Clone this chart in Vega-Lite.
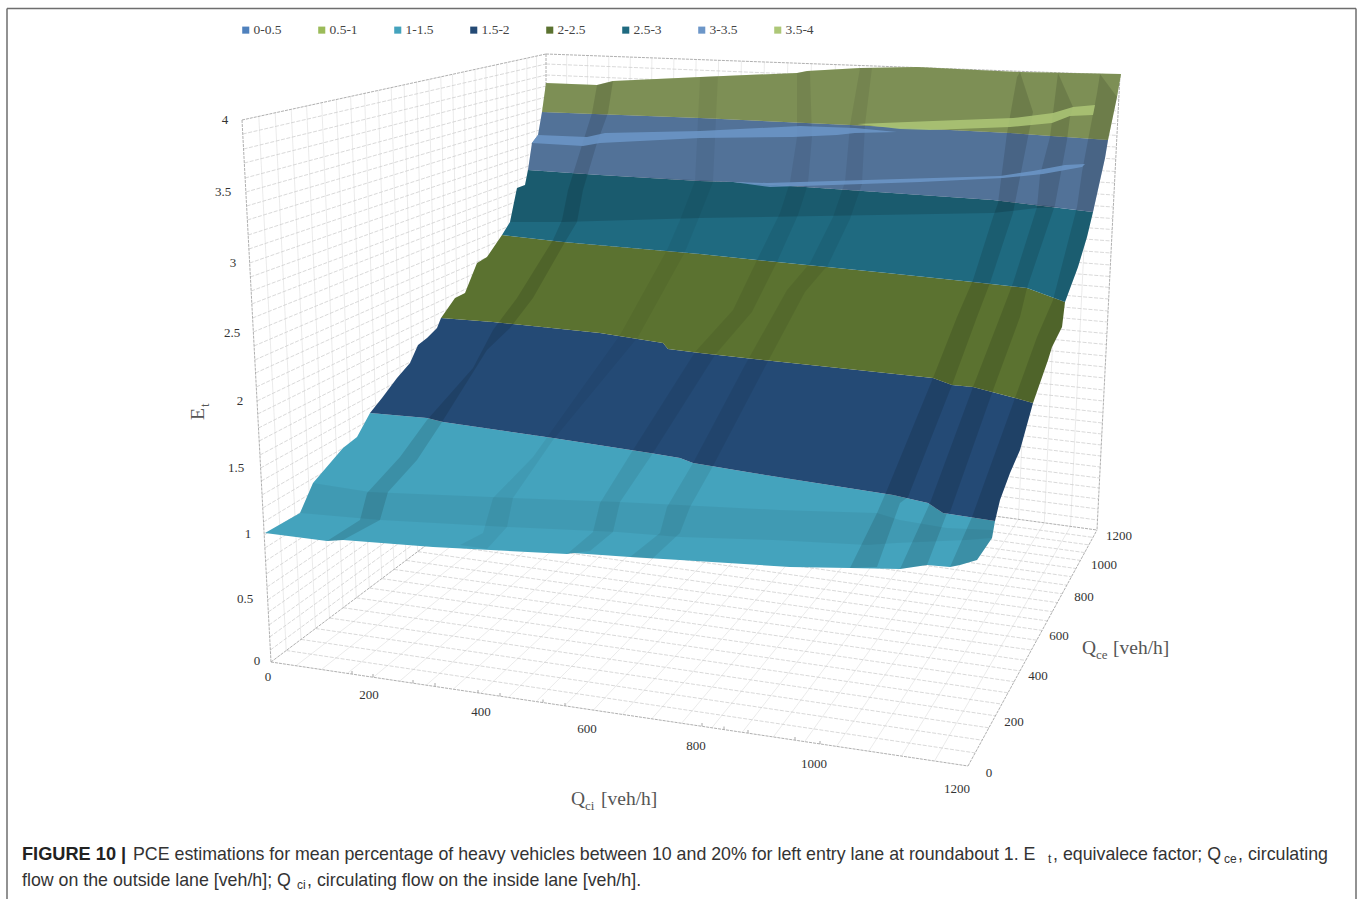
{"$schema":"https://vega.github.io/schema/vega-lite/v6.json","width":1357,"height":899,"padding":0,"autosize":{"type":"none"},"background":"white","config":{"view":{"stroke":null}},
"datasets":{
"frame":[{"x":7,"y":8.5,"x2":1356,"y2":8.5},{"x":7,"y":8.5,"x2":7,"y2":899},{"x":1356,"y":8.5,"x2":1356,"y2":899}],
"edge":[{"x":242,"y":120,"x2":546,"y2":54},{"x":242,"y":120,"x2":271,"y2":662},{"x":546,"y":54,"x2":546,"y2":455},{"x":546,"y":54,"x2":1120,"y2":75},{"x":1120,"y":75,"x2":1097,"y2":530},{"x":271,"y":662,"x2":968,"y2":766},{"x":968,"y":766,"x2":1097,"y2":530},{"x":271,"y":662,"x2":546,"y2":455},{"x":546,"y":455,"x2":1097,"y2":530}],
"floorTicks":[{"x":352,"y":674,"x2":352,"y2":671},{"x":373,"y":677,"x2":373,"y2":674},{"x":413,"y":683,"x2":413,"y2":680},{"x":435,"y":686,"x2":435,"y2":683},{"x":478,"y":693,"x2":478,"y2":690},{"x":500,"y":696,"x2":500,"y2":693},{"x":543,"y":702.5,"x2":543,"y2":699.5},{"x":565,"y":706,"x2":565,"y2":703},{"x":702,"y":726,"x2":702,"y2":723},{"x":724,"y":729.5,"x2":724,"y2":726.5},{"x":748,"y":733,"x2":748,"y2":730},{"x":795,"y":740,"x2":795,"y2":737},{"x":820,"y":744,"x2":820,"y2":741}],
"dashed":[
{"x":270.4,"y":650,"x2":546,"y2":446},{"x":269.7,"y":637,"x2":546,"y2":436.5},{"x":269,"y":625,"x2":546,"y2":428},{"x":268.3,"y":612,"x2":546,"y2":418},{"x":267.7,"y":600,"x2":546,"y2":409},{"x":267,"y":587,"x2":546,"y2":399.5},{"x":266.3,"y":574,"x2":546,"y2":390},{"x":265.6,"y":561,"x2":546,"y2":380},{"x":264.9,"y":548,"x2":546,"y2":371},{"x":264.2,"y":535,"x2":546,"y2":361},{"x":263.5,"y":522,"x2":546,"y2":351},{"x":262.8,"y":508,"x2":546,"y2":341},{"x":262,"y":495,"x2":546,"y2":331},{"x":261.3,"y":481,"x2":546,"y2":321},{"x":260.6,"y":468,"x2":546,"y2":311},{"x":260,"y":455,"x2":546,"y2":302},{"x":259.2,"y":441,"x2":546,"y2":291},{"x":258.5,"y":428,"x2":546,"y2":282},{"x":257.7,"y":414,"x2":546,"y2":271},{"x":257,"y":401,"x2":546,"y2":262},{"x":256.3,"y":387,"x2":546,"y2":251.5},{"x":255.5,"y":373,"x2":546,"y2":241},{"x":254.8,"y":360,"x2":546,"y2":231.5},{"x":254,"y":346,"x2":546,"y2":221},{"x":253.3,"y":332,"x2":546,"y2":211},{"x":252.6,"y":318,"x2":546,"y2":200},{"x":251.8,"y":304,"x2":546,"y2":190},{"x":251.2,"y":291,"x2":546,"y2":180.5},{"x":250.4,"y":277,"x2":546,"y2":170},{"x":249.7,"y":263,"x2":546,"y2":160},{"x":248.9,"y":249,"x2":546,"y2":149},{"x":248.2,"y":235,"x2":546,"y2":139},{"x":247.4,"y":220,"x2":546,"y2":128},{"x":246.6,"y":206,"x2":546,"y2":118},{"x":245.9,"y":192,"x2":546,"y2":107},{"x":245.1,"y":178,"x2":546,"y2":97},{"x":244.3,"y":163,"x2":546,"y2":86},{"x":243.6,"y":149,"x2":546,"y2":75},{"x":242.8,"y":134,"x2":546,"y2":64},
{"x":546,"y":446,"x2":1097.5,"y2":520},{"x":546,"y":436.5,"x2":1098,"y2":509},{"x":546,"y":428,"x2":1098.6,"y2":499},{"x":546,"y":418,"x2":1099.1,"y2":488},{"x":546,"y":409,"x2":1099.6,"y2":478},{"x":546,"y":399.5,"x2":1100.2,"y2":467},{"x":546,"y":390,"x2":1100.7,"y2":456},{"x":546,"y":380,"x2":1101.3,"y2":445},{"x":546,"y":371,"x2":1101.8,"y2":434},{"x":546,"y":361,"x2":1102.4,"y2":423},{"x":546,"y":351,"x2":1102.9,"y2":412.5},{"x":546,"y":341,"x2":1103.5,"y2":401},{"x":546,"y":331,"x2":1104.1,"y2":390},{"x":546,"y":321,"x2":1104.7,"y2":378},{"x":546,"y":311,"x2":1105.2,"y2":367},{"x":546,"y":302,"x2":1105.8,"y2":356},{"x":546,"y":291,"x2":1106.4,"y2":344.5},{"x":546,"y":282,"x2":1106.9,"y2":333.6},{"x":546,"y":271,"x2":1107.5,"y2":322},{"x":546,"y":262,"x2":1108.1,"y2":311},{"x":546,"y":251.5,"x2":1108.7,"y2":299},{"x":546,"y":241,"x2":1109.3,"y2":287.4},{"x":546,"y":231.5,"x2":1109.8,"y2":276.5},{"x":546,"y":221,"x2":1110.4,"y2":265},{"x":546,"y":211,"x2":1111,"y2":253},{"x":546,"y":200,"x2":1111.6,"y2":241},{"x":546,"y":190,"x2":1112.2,"y2":229.5},{"x":546,"y":180.5,"x2":1112.7,"y2":218.5},{"x":546,"y":170,"x2":1113.3,"y2":207},{"x":546,"y":160,"x2":1113.9,"y2":195},{"x":546,"y":149,"x2":1114.5,"y2":183},{"x":546,"y":139,"x2":1115.1,"y2":171.5},{"x":546,"y":128,"x2":1115.7,"y2":159},{"x":546,"y":118,"x2":1116.3,"y2":147},{"x":546,"y":107,"x2":1116.9,"y2":135.4},{"x":546,"y":97,"x2":1117.5,"y2":123.7},{"x":546,"y":86,"x2":1118.2,"y2":111},{"x":546,"y":75,"x2":1118.8,"y2":99},{"x":546,"y":64,"x2":1119.4,"y2":87},
{"x":286.2,"y":650.5,"x2":975.1,"y2":752.9},{"x":301,"y":639.4,"x2":982.1,"y2":740.2},{"x":315.5,"y":628.5,"x2":988.9,"y2":727.8},{"x":329.5,"y":618,"x2":995.4,"y2":715.8},{"x":343,"y":607.7,"x2":1001.8,"y2":704.1},{"x":356.3,"y":597.8,"x2":1008,"y2":692.8},{"x":369.3,"y":588,"x2":1014.1,"y2":681.7},{"x":381.8,"y":578.6,"x2":1020,"y2":670.9},{"x":394,"y":569.4,"x2":1025.7,"y2":660.4},{"x":406,"y":560.4,"x2":1031.3,"y2":650.1},{"x":417.6,"y":551.6,"x2":1036.8,"y2":640.2},{"x":429,"y":543,"x2":1042.1,"y2":630.4},{"x":440,"y":534.8,"x2":1047.3,"y2":620.9},{"x":450.9,"y":526.6,"x2":1052.4,"y2":611.7},{"x":461.4,"y":518.7,"x2":1057.3,"y2":602.6},{"x":471.7,"y":511,"x2":1062.1,"y2":593.8},{"x":481.7,"y":503.4,"x2":1066.9,"y2":585.2},{"x":491.6,"y":496,"x2":1071.5,"y2":576.7},{"x":501.1,"y":488.8,"x2":1076,"y2":568.5},{"x":510.5,"y":481.7,"x2":1080.4,"y2":560.4},{"x":519.7,"y":474.8,"x2":1084.7,"y2":552.6},{"x":528.6,"y":468,"x2":1088.9,"y2":544.9},{"x":537.4,"y":461.5,"x2":1093,"y2":537.4}],
"light":[
{"x":258.8,"y":116.3,"x2":286.2,"y2":650.5},{"x":275.2,"y":112.8,"x2":301,"y2":639.4},{"x":291.2,"y":109.3,"x2":315.5,"y2":628.5},{"x":306.6,"y":106,"x2":329.5,"y2":618},{"x":321.7,"y":102.7,"x2":343,"y2":607.7},{"x":336.3,"y":99.5,"x2":356.3,"y2":597.8},{"x":350.6,"y":96.4,"x2":369.3,"y2":588},{"x":364.5,"y":93.4,"x2":381.8,"y2":578.6},{"x":378,"y":90.5,"x2":394,"y2":569.4},{"x":391.2,"y":87.6,"x2":406,"y2":560.4},{"x":404.1,"y":84.8,"x2":417.6,"y2":551.6},{"x":416.6,"y":82.1,"x2":429,"y2":543},{"x":428.9,"y":79.4,"x2":440,"y2":534.8},{"x":440.8,"y":76.8,"x2":450.9,"y2":526.6},{"x":452.5,"y":74.3,"x2":461.4,"y2":518.7},{"x":463.8,"y":71.8,"x2":471.7,"y2":511},{"x":475,"y":69.4,"x2":481.7,"y2":503.4},{"x":485.8,"y":67.1,"x2":491.6,"y2":496},{"x":496.4,"y":64.8,"x2":501.1,"y2":488.8},{"x":506.8,"y":62.5,"x2":510.5,"y2":481.7},{"x":516.9,"y":60.3,"x2":519.7,"y2":474.8},{"x":526.8,"y":58.2,"x2":528.6,"y2":468},{"x":536.5,"y":56,"x2":537.4,"y2":461.5},
{"x":296.1,"y":665.7,"x2":565.8,"y2":457.7},{"x":321.5,"y":669.5,"x2":586,"y2":460.4},{"x":347.3,"y":673.4,"x2":606.3,"y2":463.2},{"x":373.3,"y":677.3,"x2":626.9,"y2":466},{"x":399.6,"y":681.2,"x2":647.7,"y2":468.8},{"x":426.3,"y":685.2,"x2":668.8,"y2":471.7},{"x":453.3,"y":689.2,"x2":690.1,"y2":474.6},{"x":480.6,"y":693.3,"x2":711.7,"y2":477.6},{"x":508.3,"y":697.4,"x2":733.6,"y2":480.5},{"x":536.2,"y":701.6,"x2":755.7,"y2":483.5},{"x":564.6,"y":705.8,"x2":778.1,"y2":486.6},{"x":593.3,"y":710.1,"x2":800.8,"y2":489.7},{"x":622.4,"y":714.4,"x2":823.8,"y2":492.8},{"x":651.8,"y":718.8,"x2":847,"y2":496},{"x":681.5,"y":723.3,"x2":870.5,"y2":499.2},{"x":711.8,"y":727.8,"x2":894.5,"y2":502.4},{"x":742.3,"y":732.3,"x2":918.6,"y2":505.7},{"x":773.3,"y":737,"x2":943.1,"y2":509.1},{"x":804.7,"y":741.6,"x2":967.9,"y2":512.4},{"x":836.5,"y":746.4,"x2":993,"y2":515.8},{"x":868.7,"y":751.2,"x2":1018.5,"y2":519.3},{"x":901.4,"y":756.1,"x2":1044.3,"y2":522.8},{"x":934.5,"y":761,"x2":1070.5,"y2":526.4},
{"x":566.7,"y":54.8,"x2":565.8,"y2":457.7},{"x":587.6,"y":55.5,"x2":586,"y2":460.4},{"x":608.8,"y":56.3,"x2":606.3,"y2":463.2},{"x":630.3,"y":57.1,"x2":626.9,"y2":466},{"x":651.9,"y":57.9,"x2":647.7,"y2":468.8},{"x":673.9,"y":58.7,"x2":668.8,"y2":471.7},{"x":696.1,"y":59.5,"x2":690.1,"y2":474.6},{"x":718.6,"y":60.3,"x2":711.7,"y2":477.6},{"x":741.4,"y":61.1,"x2":733.6,"y2":480.5},{"x":764.4,"y":62,"x2":755.7,"y2":483.5},{"x":787.8,"y":62.8,"x2":778.1,"y2":486.6},{"x":811.4,"y":63.7,"x2":800.8,"y2":489.7},{"x":835.4,"y":64.6,"x2":823.8,"y2":492.8},{"x":859.6,"y":65.5,"x2":847,"y2":496},{"x":884.1,"y":66.4,"x2":870.5,"y2":499.2},{"x":909,"y":67.3,"x2":894.5,"y2":502.4},{"x":934.1,"y":68.2,"x2":918.6,"y2":505.7},{"x":959.7,"y":69.1,"x2":943.1,"y2":509.1},{"x":985.5,"y":70.1,"x2":967.9,"y2":512.4},{"x":1011.7,"y":71,"x2":993,"y2":515.8},{"x":1038.2,"y":72,"x2":1018.5,"y2":519.3},{"x":1065.1,"y":73,"x2":1044.3,"y2":522.8},{"x":1092.4,"y":74,"x2":1070.5,"y2":526.4}],
"surface":[
{"id":"a","b":"1-1.5","i":1,"x":265,"y":533},{"id":"a","b":"1-1.5","i":2,"x":300,"y":513},{"id":"a","b":"1-1.5","i":3,"x":313,"y":483},{"id":"a","b":"1-1.5","i":4,"x":343,"y":448},{"id":"a","b":"1-1.5","i":5,"x":357,"y":437},{"id":"a","b":"1-1.5","i":6,"x":370,"y":413},{"id":"a","b":"1-1.5","i":7,"x":427,"y":418},{"id":"a","b":"1-1.5","i":8,"x":443,"y":422},{"id":"a","b":"1-1.5","i":9,"x":553,"y":438},{"id":"a","b":"1-1.5","i":10,"x":650,"y":453},{"id":"a","b":"1-1.5","i":11,"x":680,"y":458},{"id":"a","b":"1-1.5","i":12,"x":693,"y":463},{"id":"a","b":"1-1.5","i":13,"x":753,"y":473},{"id":"a","b":"1-1.5","i":14,"x":893,"y":495},{"id":"a","b":"1-1.5","i":15,"x":928,"y":503},{"id":"a","b":"1-1.5","i":16,"x":943,"y":513},{"id":"a","b":"1-1.5","i":17,"x":995,"y":521},{"id":"a","b":"1-1.5","i":18,"x":992,"y":538},{"id":"a","b":"1-1.5","i":19,"x":977,"y":560},{"id":"a","b":"1-1.5","i":20,"x":960,"y":565},{"id":"a","b":"1-1.5","i":21,"x":950,"y":567},{"id":"a","b":"1-1.5","i":22,"x":927,"y":565},{"id":"a","b":"1-1.5","i":23,"x":900,"y":569},{"id":"a","b":"1-1.5","i":24,"x":850,"y":568},{"id":"a","b":"1-1.5","i":25,"x":790,"y":567},{"id":"a","b":"1-1.5","i":26,"x":680,"y":560},{"id":"a","b":"1-1.5","i":27,"x":630,"y":557},{"id":"a","b":"1-1.5","i":28,"x":573,"y":553},{"id":"a","b":"1-1.5","i":29,"x":567,"y":554},{"id":"a","b":"1-1.5","i":30,"x":433,"y":547},{"id":"a","b":"1-1.5","i":31,"x":343,"y":540},{"id":"a","b":"1-1.5","i":32,"x":327,"y":541},
{"id":"b","b":"1.5-2","i":1,"x":370,"y":413},{"id":"b","b":"1.5-2","i":2,"x":382,"y":398},{"id":"b","b":"1.5-2","i":3,"x":397,"y":378},{"id":"b","b":"1.5-2","i":4,"x":410,"y":363},{"id":"b","b":"1.5-2","i":5,"x":418,"y":345},{"id":"b","b":"1.5-2","i":6,"x":427,"y":338},{"id":"b","b":"1.5-2","i":7,"x":437,"y":328},{"id":"b","b":"1.5-2","i":8,"x":441,"y":318},{"id":"b","b":"1.5-2","i":9,"x":493,"y":322},{"id":"b","b":"1.5-2","i":10,"x":600,"y":333},{"id":"b","b":"1.5-2","i":11,"x":663,"y":343},{"id":"b","b":"1.5-2","i":12,"x":668,"y":349},{"id":"b","b":"1.5-2","i":13,"x":700,"y":353},{"id":"b","b":"1.5-2","i":14,"x":763,"y":360},{"id":"b","b":"1.5-2","i":15,"x":933,"y":378},{"id":"b","b":"1.5-2","i":16,"x":952,"y":385},{"id":"b","b":"1.5-2","i":17,"x":973,"y":387},{"id":"b","b":"1.5-2","i":18,"x":1015,"y":398},{"id":"b","b":"1.5-2","i":19,"x":1033,"y":403},{"id":"b","b":"1.5-2","i":20,"x":1020,"y":450},{"id":"b","b":"1.5-2","i":21,"x":1010,"y":473},{"id":"b","b":"1.5-2","i":22,"x":1000,"y":500},{"id":"b","b":"1.5-2","i":23,"x":995,"y":521},{"id":"b","b":"1.5-2","i":24,"x":943,"y":513},{"id":"b","b":"1.5-2","i":25,"x":928,"y":503},{"id":"b","b":"1.5-2","i":26,"x":893,"y":495},{"id":"b","b":"1.5-2","i":27,"x":753,"y":473},{"id":"b","b":"1.5-2","i":28,"x":693,"y":463},{"id":"b","b":"1.5-2","i":29,"x":680,"y":458},{"id":"b","b":"1.5-2","i":30,"x":650,"y":453},{"id":"b","b":"1.5-2","i":31,"x":553,"y":438},{"id":"b","b":"1.5-2","i":32,"x":443,"y":422},{"id":"b","b":"1.5-2","i":33,"x":427,"y":418},
{"id":"c","b":"2-2.5","i":1,"x":441,"y":318},{"id":"c","b":"2-2.5","i":2,"x":455,"y":298},{"id":"c","b":"2-2.5","i":3,"x":465,"y":293},{"id":"c","b":"2-2.5","i":4,"x":477,"y":263},{"id":"c","b":"2-2.5","i":5,"x":487,"y":257},{"id":"c","b":"2-2.5","i":6,"x":502,"y":235},{"id":"c","b":"2-2.5","i":7,"x":563,"y":242},{"id":"c","b":"2-2.5","i":8,"x":700,"y":254},{"id":"c","b":"2-2.5","i":9,"x":757,"y":260},{"id":"c","b":"2-2.5","i":10,"x":887,"y":273},{"id":"c","b":"2-2.5","i":11,"x":973,"y":282},{"id":"c","b":"2-2.5","i":12,"x":1027,"y":288},{"id":"c","b":"2-2.5","i":13,"x":1065,"y":302},{"id":"c","b":"2-2.5","i":14,"x":1062,"y":327},{"id":"c","b":"2-2.5","i":15,"x":1052,"y":347},{"id":"c","b":"2-2.5","i":16,"x":1048,"y":360},{"id":"c","b":"2-2.5","i":17,"x":1033,"y":403},{"id":"c","b":"2-2.5","i":18,"x":1015,"y":398},{"id":"c","b":"2-2.5","i":19,"x":973,"y":387},{"id":"c","b":"2-2.5","i":20,"x":952,"y":385},{"id":"c","b":"2-2.5","i":21,"x":933,"y":378},{"id":"c","b":"2-2.5","i":22,"x":763,"y":360},{"id":"c","b":"2-2.5","i":23,"x":700,"y":353},{"id":"c","b":"2-2.5","i":24,"x":668,"y":349},{"id":"c","b":"2-2.5","i":25,"x":663,"y":343},{"id":"c","b":"2-2.5","i":26,"x":600,"y":333},{"id":"c","b":"2-2.5","i":27,"x":493,"y":322},
{"id":"d","b":"2.5-3","i":1,"x":502,"y":235},{"id":"d","b":"2.5-3","i":2,"x":510,"y":222},{"id":"d","b":"2.5-3","i":3,"x":517,"y":188},{"id":"d","b":"2.5-3","i":4,"x":525,"y":185},{"id":"d","b":"2.5-3","i":5,"x":528,"y":170},{"id":"d","b":"2.5-3","i":6,"x":600,"y":175},{"id":"d","b":"2.5-3","i":7,"x":700,"y":181},{"id":"d","b":"2.5-3","i":8,"x":733,"y":182},{"id":"d","b":"2.5-3","i":9,"x":993,"y":200},{"id":"d","b":"2.5-3","i":10,"x":1093,"y":212},{"id":"d","b":"2.5-3","i":11,"x":1087,"y":237},{"id":"d","b":"2.5-3","i":12,"x":1078,"y":267},{"id":"d","b":"2.5-3","i":13,"x":1065,"y":302},{"id":"d","b":"2.5-3","i":14,"x":1027,"y":288},{"id":"d","b":"2.5-3","i":15,"x":973,"y":282},{"id":"d","b":"2.5-3","i":16,"x":887,"y":273},{"id":"d","b":"2.5-3","i":17,"x":757,"y":260},{"id":"d","b":"2.5-3","i":18,"x":700,"y":254},{"id":"d","b":"2.5-3","i":19,"x":563,"y":242},
{"id":"e","b":"3-3.5","i":1,"x":528,"y":170},{"id":"e","b":"3-3.5","i":2,"x":532,"y":143},{"id":"e","b":"3-3.5","i":3,"x":538,"y":135},{"id":"e","b":"3-3.5","i":4,"x":542,"y":112},{"id":"e","b":"3-3.5","i":5,"x":700,"y":118},{"id":"e","b":"3-3.5","i":6,"x":850,"y":125},{"id":"e","b":"3-3.5","i":7,"x":1010,"y":133},{"id":"e","b":"3-3.5","i":8,"x":1108,"y":140},{"id":"e","b":"3-3.5","i":9,"x":1105,"y":158},{"id":"e","b":"3-3.5","i":10,"x":1093,"y":212},{"id":"e","b":"3-3.5","i":11,"x":993,"y":200},{"id":"e","b":"3-3.5","i":12,"x":733,"y":182},{"id":"e","b":"3-3.5","i":13,"x":700,"y":181},{"id":"e","b":"3-3.5","i":14,"x":600,"y":175},
{"id":"f","b":"3.5-4","i":1,"x":542,"y":112},{"id":"f","b":"3.5-4","i":2,"x":546,"y":83},{"id":"f","b":"3.5-4","i":3,"x":597,"y":85},{"id":"f","b":"3.5-4","i":4,"x":613,"y":81},{"id":"f","b":"3.5-4","i":5,"x":700,"y":77},{"id":"f","b":"3.5-4","i":6,"x":797,"y":73},{"id":"f","b":"3.5-4","i":7,"x":807,"y":71},{"id":"f","b":"3.5-4","i":8,"x":860,"y":68},{"id":"f","b":"3.5-4","i":9,"x":917,"y":67},{"id":"f","b":"3.5-4","i":10,"x":1020,"y":72},{"id":"f","b":"3.5-4","i":11,"x":1121,"y":74},{"id":"f","b":"3.5-4","i":12,"x":1117,"y":97},{"id":"f","b":"3.5-4","i":13,"x":1108,"y":140},{"id":"f","b":"3.5-4","i":14,"x":1010,"y":133},{"id":"f","b":"3.5-4","i":15,"x":850,"y":125},{"id":"f","b":"3.5-4","i":16,"x":700,"y":118}],
"shade":[
{"id":"o","k":"olive","i":1,"x":542,"y":112},{"id":"o","k":"olive","i":2,"x":546,"y":83},{"id":"o","k":"olive","i":3,"x":597,"y":85},{"id":"o","k":"olive","i":4,"x":613,"y":81},{"id":"o","k":"olive","i":5,"x":700,"y":77},{"id":"o","k":"olive","i":6,"x":797,"y":73},{"id":"o","k":"olive","i":7,"x":807,"y":71},{"id":"o","k":"olive","i":8,"x":860,"y":68},{"id":"o","k":"olive","i":9,"x":917,"y":67},{"id":"o","k":"olive","i":10,"x":1020,"y":72},{"id":"o","k":"olive","i":11,"x":1121,"y":74},{"id":"o","k":"olive","i":12,"x":1117,"y":97},{"id":"o","k":"olive","i":13,"x":1108,"y":140},{"id":"o","k":"olive","i":14,"x":1010,"y":133},{"id":"o","k":"olive","i":15,"x":850,"y":125},{"id":"o","k":"olive","i":16,"x":700,"y":118},
{"id":"s","k":"steel","i":1,"x":528,"y":170},{"id":"s","k":"steel","i":2,"x":532,"y":143},{"id":"s","k":"steel","i":3,"x":538,"y":135},{"id":"s","k":"steel","i":4,"x":542,"y":112},{"id":"s","k":"steel","i":5,"x":700,"y":118},{"id":"s","k":"steel","i":6,"x":850,"y":125},{"id":"s","k":"steel","i":7,"x":1010,"y":133},{"id":"s","k":"steel","i":8,"x":1108,"y":140},{"id":"s","k":"steel","i":9,"x":1105,"y":158},{"id":"s","k":"steel","i":10,"x":1093,"y":212},{"id":"s","k":"steel","i":11,"x":993,"y":200},{"id":"s","k":"steel","i":12,"x":733,"y":182},{"id":"s","k":"steel","i":13,"x":700,"y":181},{"id":"s","k":"steel","i":14,"x":600,"y":175},
{"id":"t","k":"teal","i":1,"x":528,"y":170},{"id":"t","k":"teal","i":2,"x":600,"y":175},{"id":"t","k":"teal","i":3,"x":733,"y":182},{"id":"t","k":"teal","i":4,"x":993,"y":200},{"id":"t","k":"teal","i":5,"x":1060,"y":207},{"id":"t","k":"teal","i":6,"x":1037,"y":208},{"id":"t","k":"teal","i":7,"x":993,"y":213},{"id":"t","k":"teal","i":8,"x":700,"y":218},{"id":"t","k":"teal","i":9,"x":563,"y":222},{"id":"t","k":"teal","i":10,"x":510,"y":222},{"id":"t","k":"teal","i":11,"x":517,"y":188},{"id":"t","k":"teal","i":12,"x":525,"y":185},
{"id":"h","k":"faint","i":1,"x":313,"y":483},{"id":"h","k":"faint","i":2,"x":370,"y":492},{"id":"h","k":"faint","i":3,"x":513,"y":498},{"id":"h","k":"faint","i":4,"x":620,"y":502},{"id":"h","k":"faint","i":5,"x":680,"y":505},{"id":"h","k":"faint","i":6,"x":780,"y":510},{"id":"h","k":"faint","i":7,"x":877,"y":513},{"id":"h","k":"faint","i":8,"x":900,"y":520},{"id":"h","k":"faint","i":9,"x":947,"y":528},{"id":"h","k":"faint","i":10,"x":993,"y":530},{"id":"h","k":"faint","i":11,"x":992,"y":538},{"id":"h","k":"faint","i":12,"x":967,"y":540},{"id":"h","k":"faint","i":13,"x":897,"y":543},{"id":"h","k":"faint","i":14,"x":867,"y":545},{"id":"h","k":"faint","i":15,"x":773,"y":540},{"id":"h","k":"faint","i":16,"x":680,"y":537},{"id":"h","k":"faint","i":17,"x":617,"y":532},{"id":"h","k":"faint","i":18,"x":507,"y":527},{"id":"h","k":"faint","i":19,"x":380,"y":520},{"id":"h","k":"faint","i":20,"x":300,"y":513},
{"id":"s1","k":"stripe","i":1,"x":327,"y":541},{"id":"s1","k":"stripe","i":2,"x":360,"y":520},{"id":"s1","k":"stripe","i":3,"x":367,"y":493},{"id":"s1","k":"stripe","i":4,"x":400,"y":457},{"id":"s1","k":"stripe","i":5,"x":427,"y":420},{"id":"s1","k":"stripe","i":6,"x":473,"y":368},{"id":"s1","k":"stripe","i":7,"x":493,"y":330},{"id":"s1","k":"stripe","i":8,"x":517,"y":298},{"id":"s1","k":"stripe","i":9,"x":553,"y":240},{"id":"s1","k":"stripe","i":10,"x":562,"y":220},{"id":"s1","k":"stripe","i":11,"x":568,"y":190},{"id":"s1","k":"stripe","i":12,"x":582,"y":145},{"id":"s1","k":"stripe","i":13,"x":592,"y":113},{"id":"s1","k":"stripe","i":14,"x":597,"y":85},{"id":"s1","k":"stripe","i":15,"x":613,"y":81},{"id":"s1","k":"stripe","i":16,"x":608,"y":113},{"id":"s1","k":"stripe","i":17,"x":597,"y":143},{"id":"s1","k":"stripe","i":18,"x":583,"y":190},{"id":"s1","k":"stripe","i":19,"x":577,"y":222},{"id":"s1","k":"stripe","i":20,"x":565,"y":242},{"id":"s1","k":"stripe","i":21,"x":533,"y":298},{"id":"s1","k":"stripe","i":22,"x":510,"y":328},{"id":"s1","k":"stripe","i":23,"x":487,"y":350},{"id":"s1","k":"stripe","i":24,"x":442,"y":422},{"id":"s1","k":"stripe","i":25,"x":417,"y":460},{"id":"s1","k":"stripe","i":26,"x":388,"y":492},{"id":"s1","k":"stripe","i":27,"x":380,"y":520},{"id":"s1","k":"stripe","i":28,"x":343,"y":540},
{"id":"m2","k":"faint","i":1,"x":460,"y":545},{"id":"m2","k":"faint","i":2,"x":483,"y":533},{"id":"m2","k":"faint","i":3,"x":493,"y":498},{"id":"m2","k":"faint","i":4,"x":533,"y":457},{"id":"m2","k":"faint","i":5,"x":620,"y":335},{"id":"m2","k":"faint","i":6,"x":667,"y":250},{"id":"m2","k":"faint","i":7,"x":680,"y":220},{"id":"m2","k":"faint","i":8,"x":695,"y":181},{"id":"m2","k":"faint","i":9,"x":700,"y":77},{"id":"m2","k":"faint","i":10,"x":718,"y":76},{"id":"m2","k":"faint","i":11,"x":713,"y":182},{"id":"m2","k":"faint","i":12,"x":698,"y":220},{"id":"m2","k":"faint","i":13,"x":685,"y":252},{"id":"m2","k":"faint","i":14,"x":638,"y":337},{"id":"m2","k":"faint","i":15,"x":553,"y":440},{"id":"m2","k":"faint","i":16,"x":513,"y":498},{"id":"m2","k":"faint","i":17,"x":507,"y":527},{"id":"m2","k":"faint","i":18,"x":487,"y":549},
{"id":"m3","k":"mild","i":1,"x":567,"y":554},{"id":"m3","k":"mild","i":2,"x":593,"y":532},{"id":"m3","k":"mild","i":3,"x":600,"y":503},{"id":"m3","k":"mild","i":4,"x":633,"y":450},{"id":"m3","k":"mild","i":5,"x":695,"y":352},{"id":"m3","k":"mild","i":6,"x":733,"y":310},{"id":"m3","k":"mild","i":7,"x":757,"y":260},{"id":"m3","k":"mild","i":8,"x":780,"y":213},{"id":"m3","k":"mild","i":9,"x":790,"y":182},{"id":"m3","k":"mild","i":10,"x":797,"y":137},{"id":"m3","k":"mild","i":11,"x":797,"y":73},{"id":"m3","k":"mild","i":12,"x":810,"y":71},{"id":"m3","k":"mild","i":13,"x":812,"y":137},{"id":"m3","k":"mild","i":14,"x":808,"y":184},{"id":"m3","k":"mild","i":15,"x":798,"y":215},{"id":"m3","k":"mild","i":16,"x":777,"y":262},{"id":"m3","k":"mild","i":17,"x":752,"y":312},{"id":"m3","k":"mild","i":18,"x":715,"y":355},{"id":"m3","k":"mild","i":19,"x":653,"y":453},{"id":"m3","k":"mild","i":20,"x":620,"y":502},{"id":"m3","k":"mild","i":21,"x":613,"y":532},{"id":"m3","k":"mild","i":22,"x":590,"y":551},
{"id":"m4","k":"mild","i":1,"x":630,"y":557},{"id":"m4","k":"mild","i":2,"x":660,"y":533},{"id":"m4","k":"mild","i":3,"x":667,"y":507},{"id":"m4","k":"mild","i":4,"x":693,"y":463},{"id":"m4","k":"mild","i":5,"x":745,"y":365},{"id":"m4","k":"mild","i":6,"x":787,"y":290},{"id":"m4","k":"mild","i":7,"x":810,"y":263},{"id":"m4","k":"mild","i":8,"x":833,"y":217},{"id":"m4","k":"mild","i":9,"x":845,"y":182},{"id":"m4","k":"mild","i":10,"x":850,"y":125},{"id":"m4","k":"mild","i":11,"x":860,"y":68},{"id":"m4","k":"mild","i":12,"x":872,"y":68},{"id":"m4","k":"mild","i":13,"x":865,"y":125},{"id":"m4","k":"mild","i":14,"x":862,"y":184},{"id":"m4","k":"mild","i":15,"x":850,"y":219},{"id":"m4","k":"mild","i":16,"x":828,"y":265},{"id":"m4","k":"mild","i":17,"x":805,"y":292},{"id":"m4","k":"mild","i":18,"x":765,"y":367},{"id":"m4","k":"mild","i":19,"x":713,"y":466},{"id":"m4","k":"mild","i":20,"x":690,"y":507},{"id":"m4","k":"mild","i":21,"x":680,"y":533},{"id":"m4","k":"mild","i":22,"x":652,"y":559},
{"id":"r1","k":"stripe","i":1,"x":1017,"y":77},{"id":"r1","k":"stripe","i":2,"x":1007,"y":133},{"id":"r1","k":"stripe","i":3,"x":998,"y":203},{"id":"r1","k":"stripe","i":4,"x":993,"y":217},{"id":"r1","k":"stripe","i":5,"x":973,"y":280},{"id":"r1","k":"stripe","i":6,"x":957,"y":317},{"id":"r1","k":"stripe","i":7,"x":933,"y":378},{"id":"r1","k":"stripe","i":8,"x":887,"y":490},{"id":"r1","k":"stripe","i":9,"x":877,"y":513},{"id":"r1","k":"stripe","i":10,"x":850,"y":568},{"id":"r1","k":"stripe","i":11,"x":877,"y":567},{"id":"r1","k":"stripe","i":12,"x":900,"y":503},{"id":"r1","k":"stripe","i":13,"x":908,"y":497},{"id":"r1","k":"stripe","i":14,"x":952,"y":385},{"id":"r1","k":"stripe","i":15,"x":977,"y":317},{"id":"r1","k":"stripe","i":16,"x":990,"y":283},{"id":"r1","k":"stripe","i":17,"x":1013,"y":213},{"id":"r1","k":"stripe","i":18,"x":1028,"y":137},{"id":"r1","k":"stripe","i":19,"x":1033,"y":112},{"id":"r1","k":"stripe","i":20,"x":1020,"y":72},
{"id":"r2","k":"stripe","i":1,"x":1058,"y":73},{"id":"r2","k":"stripe","i":2,"x":1050,"y":137},{"id":"r2","k":"stripe","i":3,"x":1040,"y":175},{"id":"r2","k":"stripe","i":4,"x":1037,"y":207},{"id":"r2","k":"stripe","i":5,"x":1013,"y":283},{"id":"r2","k":"stripe","i":6,"x":1000,"y":317},{"id":"r2","k":"stripe","i":7,"x":973,"y":387},{"id":"r2","k":"stripe","i":8,"x":930,"y":503},{"id":"r2","k":"stripe","i":9,"x":900,"y":569},{"id":"r2","k":"stripe","i":10,"x":927,"y":565},{"id":"r2","k":"stripe","i":11,"x":947,"y":513},{"id":"r2","k":"stripe","i":12,"x":950,"y":512},{"id":"r2","k":"stripe","i":13,"x":992,"y":393},{"id":"r2","k":"stripe","i":14,"x":1020,"y":317},{"id":"r2","k":"stripe","i":15,"x":1027,"y":288},{"id":"r2","k":"stripe","i":16,"x":1055,"y":205},{"id":"r2","k":"stripe","i":17,"x":1067,"y":140},{"id":"r2","k":"stripe","i":18,"x":1070,"y":117},{"id":"r2","k":"stripe","i":19,"x":1073,"y":107},
{"id":"r3","k":"stripe","i":1,"x":1100,"y":74},{"id":"r3","k":"stripe","i":2,"x":1097,"y":93},{"id":"r3","k":"stripe","i":3,"x":1088,"y":140},{"id":"r3","k":"stripe","i":4,"x":1082,"y":172},{"id":"r3","k":"stripe","i":5,"x":1077,"y":207},{"id":"r3","k":"stripe","i":6,"x":1053,"y":300},{"id":"r3","k":"stripe","i":7,"x":1037,"y":337},{"id":"r3","k":"stripe","i":8,"x":1015,"y":398},{"id":"r3","k":"stripe","i":9,"x":972,"y":517},{"id":"r3","k":"stripe","i":10,"x":950,"y":567},{"id":"r3","k":"stripe","i":11,"x":960,"y":565},{"id":"r3","k":"stripe","i":12,"x":977,"y":560},{"id":"r3","k":"stripe","i":13,"x":992,"y":538},{"id":"r3","k":"stripe","i":14,"x":995,"y":521},{"id":"r3","k":"stripe","i":15,"x":1000,"y":500},{"id":"r3","k":"stripe","i":16,"x":1010,"y":473},{"id":"r3","k":"stripe","i":17,"x":1020,"y":450},{"id":"r3","k":"stripe","i":18,"x":1033,"y":403},{"id":"r3","k":"stripe","i":19,"x":1048,"y":360},{"id":"r3","k":"stripe","i":20,"x":1052,"y":347},{"id":"r3","k":"stripe","i":21,"x":1062,"y":327},{"id":"r3","k":"stripe","i":22,"x":1065,"y":302},{"id":"r3","k":"stripe","i":23,"x":1078,"y":267},{"id":"r3","k":"stripe","i":24,"x":1087,"y":237},{"id":"r3","k":"stripe","i":25,"x":1093,"y":212},{"id":"r3","k":"stripe","i":26,"x":1105,"y":158},{"id":"r3","k":"stripe","i":27,"x":1108,"y":140},{"id":"r3","k":"stripe","i":28,"x":1117,"y":97}],
"strips":[
{"id":"p","b":"3.5-4","i":1,"x":857,"y":124},{"id":"p","b":"3.5-4","i":2,"x":933,"y":121},{"id":"p","b":"3.5-4","i":3,"x":1013,"y":118},{"id":"p","b":"3.5-4","i":4,"x":1053,"y":113},{"id":"p","b":"3.5-4","i":5,"x":1073,"y":107},{"id":"p","b":"3.5-4","i":6,"x":1095,"y":105},{"id":"p","b":"3.5-4","i":7,"x":1093,"y":115},{"id":"p","b":"3.5-4","i":8,"x":1070,"y":116},{"id":"p","b":"3.5-4","i":9,"x":1052,"y":123},{"id":"p","b":"3.5-4","i":10,"x":1010,"y":127},{"id":"p","b":"3.5-4","i":11,"x":930,"y":130},{"id":"p","b":"3.5-4","i":12,"x":900,"y":129},
{"id":"q","b":"3-3.5","i":1,"x":538,"y":135},{"id":"q","b":"3-3.5","i":2,"x":587,"y":137},{"id":"q","b":"3-3.5","i":3,"x":605,"y":133},{"id":"q","b":"3-3.5","i":4,"x":700,"y":131},{"id":"q","b":"3-3.5","i":5,"x":800,"y":126},{"id":"q","b":"3-3.5","i":6,"x":855,"y":128},{"id":"q","b":"3-3.5","i":7,"x":897,"y":132},{"id":"q","b":"3-3.5","i":8,"x":855,"y":133},{"id":"q","b":"3-3.5","i":9,"x":837,"y":135},{"id":"q","b":"3-3.5","i":10,"x":793,"y":137},{"id":"q","b":"3-3.5","i":11,"x":700,"y":138},{"id":"q","b":"3-3.5","i":12,"x":600,"y":143},{"id":"q","b":"3-3.5","i":13,"x":583,"y":146},{"id":"q","b":"3-3.5","i":14,"x":532,"y":143},
{"id":"u","b":"3-3.5","i":1,"x":733,"y":182},{"id":"u","b":"3-3.5","i":2,"x":767,"y":183},{"id":"u","b":"3-3.5","i":3,"x":833,"y":181},{"id":"u","b":"3-3.5","i":4,"x":1000,"y":176},{"id":"u","b":"3-3.5","i":5,"x":1033,"y":171},{"id":"u","b":"3-3.5","i":6,"x":1065,"y":165},{"id":"u","b":"3-3.5","i":7,"x":1085,"y":164},{"id":"u","b":"3-3.5","i":8,"x":1082,"y":167},{"id":"u","b":"3-3.5","i":9,"x":1043,"y":174},{"id":"u","b":"3-3.5","i":10,"x":1003,"y":178},{"id":"u","b":"3-3.5","i":11,"x":920,"y":182},{"id":"u","b":"3-3.5","i":12,"x":833,"y":185},{"id":"u","b":"3-3.5","i":13,"x":770,"y":187}],
"ticks":[{"t":"4","x":225,"y":120},{"t":"3.5","x":223,"y":192},{"t":"3","x":233,"y":263},{"t":"2.5","x":232,"y":333},{"t":"2","x":240,"y":401},{"t":"1.5","x":236,"y":468},{"t":"1","x":248,"y":534},{"t":"0.5","x":245,"y":599},{"t":"0","x":257,"y":661},
{"t":"0","x":268,"y":677},{"t":"200","x":369,"y":695},{"t":"400","x":481,"y":712},{"t":"600","x":587,"y":729},{"t":"800","x":696,"y":746},{"t":"1000","x":814,"y":764},{"t":"1200","x":957,"y":789},
{"t":"0","x":989,"y":773},{"t":"200","x":1014,"y":722},{"t":"400","x":1038,"y":676},{"t":"600","x":1059,"y":636},{"t":"800","x":1084,"y":597},{"t":"1000","x":1104,"y":565},{"t":"1200","x":1119,"y":536}],
"titles":[{"t":"Q","x":571,"y":799},{"t":"[veh/h]","x":601,"y":799},{"t":"Q","x":1082,"y":648},{"t":"[veh/h]","x":1113,"y":648}],
"subs":[{"t":"ci","x":585,"y":806},{"t":"ce","x":1096,"y":655}],
"etmain":[{"t":"E","x":198,"y":420}],
"etsub":[{"t":"t","x":205,"y":407}],
"capBold":[{"t":"FIGURE 10 |","x":22,"y":855}],
"cap":[{"t":"PCE estimations for mean percentage of heavy vehicles between 10 and 20% for left entry lane at roundabout 1. E","x":133,"y":855},{"t":", equivalece factor; Q","x":1053,"y":855},{"t":", circulating","x":1238,"y":855},{"t":"flow on the outside lane [veh/h]; Q","x":22,"y":881},{"t":", circulating flow on the inside lane [veh/h].","x":307,"y":881}],
"capSub":[{"t":"t","x":1048,"y":859},{"t":"ce","x":1224,"y":859},{"t":"ci","x":297,"y":885}]
},
"encoding":{"x":{"field":"x","type":"quantitative","scale":{"domain":[0,1357]},"axis":null},"y":{"field":"y","type":"quantitative","scale":{"domain":[899,0]},"axis":null}},
"layer":[
{"data":{"name":"frame"},"mark":{"type":"rule","color":"#6e6e6e","strokeWidth":1.5},"encoding":{"x2":{"field":"x2"},"y2":{"field":"y2"}}},
{"data":{"name":"light"},"mark":{"type":"rule","color":"#e6e6e6","strokeWidth":0.8},"encoding":{"x2":{"field":"x2"},"y2":{"field":"y2"}}},
{"data":{"name":"dashed"},"mark":{"type":"rule","color":"#cfcfcf","strokeWidth":0.8,"strokeDash":[4,1.5]},"encoding":{"x2":{"field":"x2"},"y2":{"field":"y2"}}},
{"data":{"name":"edge"},"mark":{"type":"rule","color":"#b0b0b0","strokeWidth":1,"strokeDash":[3,1]},"encoding":{"x2":{"field":"x2"},"y2":{"field":"y2"}}},
{"data":{"name":"floorTicks"},"mark":{"type":"rule","color":"#a8a8a8","strokeWidth":1},"encoding":{"x2":{"field":"x2"},"y2":{"field":"y2"}}},
{"data":{"name":"surface"},"mark":{"type":"line","filled":true,"strokeWidth":0},"encoding":{"order":{"field":"i","type":"quantitative"},"detail":{"field":"id"},"fill":{"field":"b","type":"nominal","scale":{"domain":["0-0.5","0.5-1","1-1.5","1.5-2","2-2.5","2.5-3","3-3.5","3.5-4"],"range":["#4f81bd","#9bbb59","#44a3bd","#244a75","#5b7230","#1f6a80","#6c96c8","#adc777"]},"legend":{"title":null,"orient":"none","legendX":239,"legendY":23,"direction":"horizontal","columns":8,"gridAlign":"all","columnPadding":33,"symbolType":"square","symbolSize":50,"symbolStrokeWidth":0,"labelFont":"Liberation Serif","labelFontSize":13.5,"labelColor":"#444","labelOffset":1}}}},
{"data":{"name":"shade"},"transform":[{"filter":{"field":"k","equal":"olive"}}],"mark":{"type":"line","filled":true,"strokeWidth":0,"fill":"#000","fillOpacity":0.28},"encoding":{"order":{"field":"i","type":"quantitative"},"detail":{"field":"id"}}},
{"data":{"name":"shade"},"transform":[{"filter":{"field":"k","equal":"steel"}}],"mark":{"type":"line","filled":true,"strokeWidth":0,"fill":"#000","fillOpacity":0.24},"encoding":{"order":{"field":"i","type":"quantitative"},"detail":{"field":"id"}}},
{"data":{"name":"shade"},"transform":[{"filter":{"field":"k","equal":"teal"}}],"mark":{"type":"line","filled":true,"strokeWidth":0,"fill":"#000","fillOpacity":0.14},"encoding":{"order":{"field":"i","type":"quantitative"},"detail":{"field":"id"}}},
{"data":{"name":"shade"},"transform":[{"filter":{"field":"k","equal":"stripe"}}],"mark":{"type":"line","filled":true,"strokeWidth":0,"fill":"#000","fillOpacity":0.12},"encoding":{"order":{"field":"i","type":"quantitative"},"detail":{"field":"id"}}},
{"data":{"name":"shade"},"transform":[{"filter":{"field":"k","equal":"mild"}}],"mark":{"type":"line","filled":true,"strokeWidth":0,"fill":"#000","fillOpacity":0.07},"encoding":{"order":{"field":"i","type":"quantitative"},"detail":{"field":"id"}}},
{"data":{"name":"shade"},"transform":[{"filter":{"field":"k","equal":"faint"}}],"mark":{"type":"line","filled":true,"strokeWidth":0,"fill":"#000","fillOpacity":0.05},"encoding":{"order":{"field":"i","type":"quantitative"},"detail":{"field":"id"}}},
{"data":{"name":"strips"},"mark":{"type":"line","filled":true,"strokeWidth":0,"opacity":0.85},"encoding":{"order":{"field":"i","type":"quantitative"},"detail":{"field":"id"},"fill":{"field":"b","type":"nominal","legend":null}}},
{"data":{"name":"ticks"},"mark":{"type":"text","font":"Liberation Serif","fontSize":13,"color":"#333"},"encoding":{"text":{"field":"t"}}},
{"data":{"name":"titles"},"mark":{"type":"text","font":"Liberation Serif","fontSize":19.5,"color":"#555","align":"left"},"encoding":{"text":{"field":"t"}}},
{"data":{"name":"subs"},"mark":{"type":"text","font":"Liberation Serif","fontSize":13,"color":"#555","align":"left"},"encoding":{"text":{"field":"t"}}},
{"data":{"name":"etmain"},"mark":{"type":"text","font":"Liberation Serif","fontSize":19.5,"color":"#555","angle":270,"align":"left"},"encoding":{"text":{"field":"t"}}},
{"data":{"name":"etsub"},"mark":{"type":"text","font":"Liberation Serif","fontSize":13,"color":"#555","angle":270,"align":"left"},"encoding":{"text":{"field":"t"}}},
{"data":{"name":"capBold"},"mark":{"type":"text","font":"Liberation Sans","fontSize":18.2,"fontWeight":"bold","color":"#222","align":"left"},"encoding":{"text":{"field":"t"}}},
{"data":{"name":"cap"},"mark":{"type":"text","font":"Liberation Sans","fontSize":17.8,"color":"#333","align":"left"},"encoding":{"text":{"field":"t"}}},
{"data":{"name":"capSub"},"mark":{"type":"text","font":"Liberation Sans","fontSize":12,"color":"#333","align":"left"},"encoding":{"text":{"field":"t"}}}
]}
